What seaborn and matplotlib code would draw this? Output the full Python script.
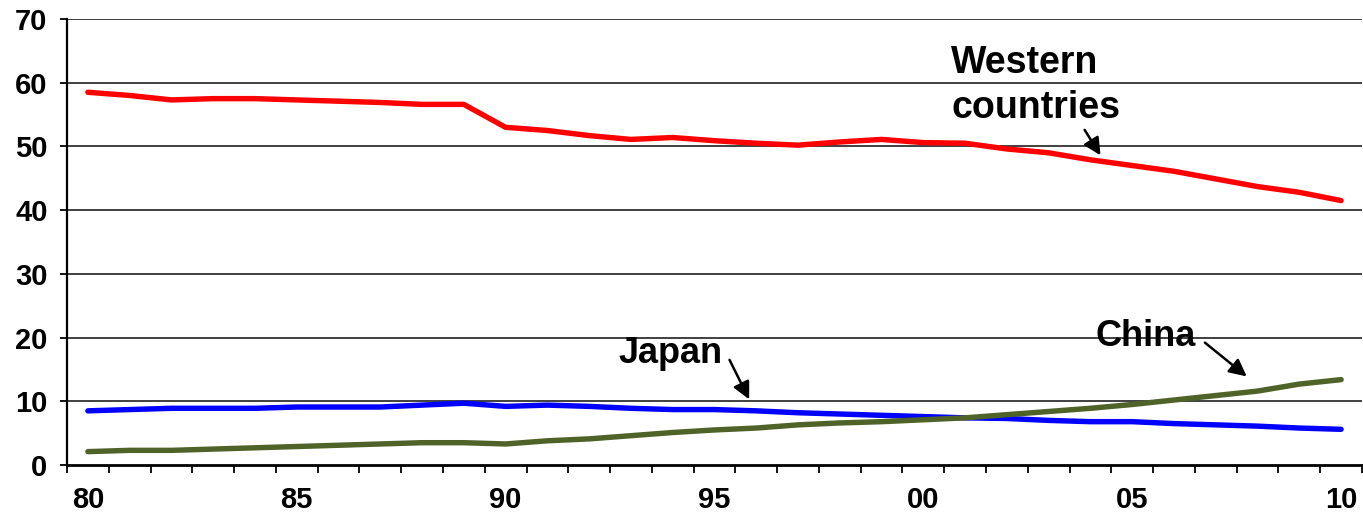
import matplotlib
matplotlib.use("Agg")
from matplotlib import pyplot as plt
from matplotlib.ticker import MultipleLocator
import seaborn as sns
import pandas as pd

years = list(range(1980, 2011))
western = [58.5, 58.0, 57.3, 57.5, 57.5, 57.3, 57.1, 56.9, 56.6, 56.6,
           53.0, 52.5, 51.7, 51.1, 51.4, 50.9, 50.5, 50.2, 50.7, 51.1,
           50.6, 50.5, 49.6, 49.0, 47.9, 47.0, 46.1, 44.9, 43.7, 42.8, 41.5]
japan = [8.5, 8.7, 8.9, 8.9, 8.9, 9.1, 9.1, 9.1, 9.4, 9.7,
         9.2, 9.4, 9.2, 8.9, 8.7, 8.7, 8.5, 8.2, 8.0, 7.8,
         7.6, 7.4, 7.3, 7.0, 6.8, 6.8, 6.5, 6.3, 6.1, 5.8, 5.6]
china = [2.1, 2.3, 2.3, 2.5, 2.7, 2.9, 3.1, 3.3, 3.5, 3.5,
         3.3, 3.8, 4.1, 4.6, 5.1, 5.5, 5.8, 6.3, 6.6, 6.8,
         7.1, 7.4, 7.9, 8.4, 8.9, 9.5, 10.2, 10.9, 11.6, 12.7, 13.4]
series_names = ["Western countries", "Japan", "China"]
colors = ["#FF0000", "#0000FF", "#4F6228"]
tick_years = [1980, 1985, 1990, 1995, 2000, 2005, 2010]
tick_labels = ["80", "85", "90", "95", "00", "05", "10"]

df = pd.DataFrame({
    "year": years * 3,
    "value": western + japan + china,
    "region": [series_names[0]] * len(years) + [series_names[1]] * len(years)
              + [series_names[2]] * len(years),
})

sns.set_theme(style="white")
plt.rcParams["font.family"] = ["Liberation Sans", "DejaVu Sans"]
plt.rcParams["font.weight"] = "bold"
plt.rcParams["text.color"] = "black"
plt.rcParams["xtick.color"] = "black"
plt.rcParams["ytick.color"] = "black"

fig = plt.figure(figsize=(13.63, 5.16), dpi=100)
ax = fig.add_axes([67 / 1363, 51 / 516, 1295 / 1363, 446 / 516])

sns.lineplot(data=df, x="year", y="value", hue="region", hue_order=series_names,
             palette=colors, linewidth=3.9, legend=False, ax=ax,
             solid_capstyle="round")

ax.set_xlim(1979.5, 2010.5)
ax.set_ylim(0, 70)
ax.set_xlabel(None)
ax.set_ylabel(None)

ax.yaxis.set_major_locator(MultipleLocator(10))
for v in range(10, 71, 10):
    ax.axhline(v, color="#202020", lw=1.2, zorder=0)

ax.set_xticks(tick_years)
ax.set_xticklabels(tick_labels)
ax.xaxis.set_minor_locator(MultipleLocator(1, offset=0.5))
ax.tick_params(axis="x", which="major", length=0, pad=15, labelsize=21)
ax.tick_params(axis="x", which="minor", length=6, width=1.3, color="black",
               direction="out", bottom=True)
ax.tick_params(axis="y", which="major", length=5, width=1.3, color="black",
               direction="out", left=True, pad=9, labelsize=21)
for lab in ax.get_xticklabels() + ax.get_yticklabels():
    lab.set_fontweight("bold")

for side in ["top", "right"]:
    ax.spines[side].set_visible(False)
ax.spines["left"].set_color("black")
ax.spines["left"].set_linewidth(1.6)
ax.spines["bottom"].set_color("black")
ax.spines["bottom"].set_linewidth(2.0)

arrow = dict(arrowstyle="-|>", color="black", lw=1.8, mutation_scale=26,
             shrinkA=0, shrinkB=0)
ax.text(2000.67, 65.9, "Western\ncountries", ha="left", va="top",
        fontsize=27, fontweight="bold", linespacing=1.33)
ax.annotate("", xy=(2004.24, 48.6), xytext=(2003.86, 52.6), arrowprops=arrow)
ax.text(1992.69, 16.05, "Japan", ha="left", va="baseline",
        fontsize=26, fontweight="bold")
ax.annotate("", xy=(1995.83, 10.3), xytext=(1995.36, 16.5), arrowprops=arrow)
ax.text(2004.12, 18.6, "China", ha="left", va="baseline",
        fontsize=26, fontweight="bold")
ax.annotate("", xy=(2007.74, 13.9), xytext=(2006.74, 19.2), arrowprops=arrow)

plt.savefig("out.png", dpi=100)
